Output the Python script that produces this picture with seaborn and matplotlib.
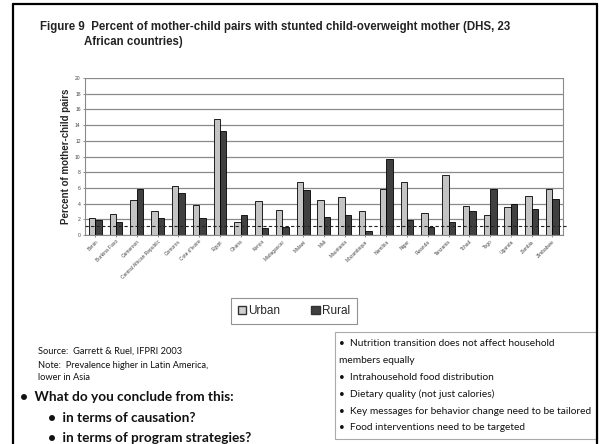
import matplotlib
matplotlib.use("Agg")
import matplotlib.pyplot as plt
import matplotlib.patches as mpatches
from matplotlib.lines import Line2D
import pandas as pd
import seaborn as sns

sns.set_theme(style="white")
plt.rcParams['font.family'] = ['Liberation Sans', 'DejaVu Sans']

# Data
countries = ['Benin', 'Burkina Faso', 'Cameroon', 'Central African Republic', 'Comoros',
             "Cote d'Ivoire", 'Egypt', 'Ghana', 'Kenya', 'Madagascar', 'Malawi', 'Mali',
             'Mauritania', 'Mozambique', 'Namibia', 'Niger', 'Rwanda', 'Tanzania', 'Tchad',
             'Togo', 'Uganda', 'Zambia', 'Zimbabwe']
urban = [2.2, 2.7, 4.5, 3.0, 6.2, 3.8, 14.8, 1.7, 4.3, 3.2, 6.7, 4.4,
         4.85, 3.1, 5.9, 6.8, 2.8, 7.7, 3.7, 2.6, 3.5, 4.9, 5.8]
rural = [1.9, 1.7, 5.8, 2.2, 5.4, 2.2, 13.3, 2.6, 0.9, 1.0, 5.7, 2.3,
         2.6, 0.5, 9.7, 1.9, 1.0, 1.7, 3.0, 5.9, 4.0, 3.3, 4.6]
yticks = list(range(0, 21, 2))

df = pd.DataFrame({
    'Country': countries * 2,
    'Area': ['Urban'] * len(countries) + ['Rural'] * len(countries),
    'Percent': urban + rural,
})

fig = plt.figure(figsize=(6.02, 4.44), dpi=100)
ax = fig.add_axes([0.141, 0.471, 0.794, 0.353])

sns.barplot(data=df, x='Country', y='Percent', hue='Area', ax=ax,
            palette={'Urban': '#c4c4c4', 'Rural': '#404040'},
            width=0.62, edgecolor='black', linewidth=0.6, legend=False)

ax.set_ylim(0, 20)
ax.set_yticks(yticks)
ax.set_yticklabels([str(t) for t in yticks], fontsize=3.6, color='#444444')
ax.set_xlim(-0.5, len(countries) - 0.5)
ax.set_xticks(range(len(countries)))
ax.set_xticklabels(countries, rotation=45, ha='right', rotation_mode='anchor',
                   fontsize=3.5, color='#444444')
ax.tick_params(axis='both', length=1.5, width=0.5, pad=1.5, colors='#666666',
               labelcolor='#444444', bottom=True, left=True)
ax.set_xlabel('')
ax.set_ylabel('Percent of mother-child pairs', fontsize=7, fontweight='bold',
              labelpad=3)
ax.yaxis.grid(True, color='#8a8a8a', linewidth=0.9)
ax.set_axisbelow(True)
ax.spines['top'].set_visible(False)
for side in ['left', 'right', 'bottom']:
    ax.spines[side].set_color('#8a8a8a')
    ax.spines[side].set_linewidth(0.8)

# dashed line across the plot (artifact on the slide)
fig.add_artist(Line2D([85 / 602, 567 / 602], [1 - 226 / 444, 1 - 226 / 444],
                      color='#222222', linewidth=0.8, linestyle=(0, (3, 2))))

# Title
fig.text(40 / 602, 1 - 27 / 444,
         'Figure 9  Percent of mother-child pairs with stunted child-overweight mother (DHS, 23',
         fontsize=8.3, fontweight='bold', va='center', ha='left', color='#222222')
fig.text(84 / 602, 1 - 42 / 444, 'African countries)', fontsize=8.3, fontweight='bold',
         va='center', ha='left', color='#222222')

# Legend box
leg_handles = [mpatches.Patch(facecolor='#d0d0d0', edgecolor='#333333', label='Urban'),
               mpatches.Patch(facecolor='#404040', edgecolor='#333333', label='Rural')]
leg = fig.legend(handles=leg_handles, loc='center', ncol=2,
                 bbox_to_anchor=(294 / 602, 1 - 311 / 444), frameon=True,
                 fontsize=8.5, handlelength=0.7, handleheight=0.7, handletextpad=0.2,
                 columnspacing=2.6, borderpad=0.6, fancybox=False)
leg.get_frame().set_edgecolor('#777777')
leg.get_frame().set_linewidth(0.8)

# Source note
note_font = ['Lato', 'DejaVu Sans']
for y, s in [(351, 'Source:  Garrett & Ruel, IFPRI 2003'),
             (365, 'Note:  Prevalence higher in Latin America,'),
             (378, 'lower in Asia')]:
    fig.text(38 / 602, 1 - y / 444, s, fontsize=6.7, family=note_font,
             va='center', ha='left', color='#111111')

# Question bullets
for x, y, s in [(20, 397, '\u2022  What do you conclude from this:'),
                (48, 418, '\u2022  in terms of causation?'),
                (48, 438, '\u2022  in terms of program strategies?')]:
    fig.text(x / 602, 1 - y / 444, s, fontsize=9.8, fontweight='bold', family=note_font,
             va='center', ha='left', color='#111111')

# Right text box
fig.add_artist(mpatches.Rectangle((335 / 602, 1 - 439 / 444), (597 - 335) / 602,
                                  (439 - 332) / 444, fill=False, edgecolor='#aaaaaa',
                                  linewidth=0.8, transform=fig.transFigure))
for y, s in [(343, '\u2022  Nutrition transition does not affect household'),
             (360, 'members equally'),
             (377, '\u2022  Intrahousehold food distribution'),
             (394, '\u2022  Dietary quality (not just calories)'),
             (411, '\u2022  Key messages for behavior change need to be tailored'),
             (427, '\u2022  Food interventions need to be targeted')]:
    fig.text(339 / 602, 1 - y / 444, s, fontsize=7.25, family=note_font,
             va='center', ha='left', color='#111111')

# Slide frame
fig.add_artist(Line2D([13 / 602, 13 / 602], [0, 1 - 4 / 444], color='black', linewidth=1.6))
fig.add_artist(Line2D([13 / 602, 597 / 602], [1 - 4 / 444, 1 - 4 / 444], color='black', linewidth=1.6))
fig.add_artist(Line2D([597 / 602, 597 / 602], [0, 1 - 4 / 444], color='black', linewidth=1.6))

fig.savefig('out.png', dpi=100)
